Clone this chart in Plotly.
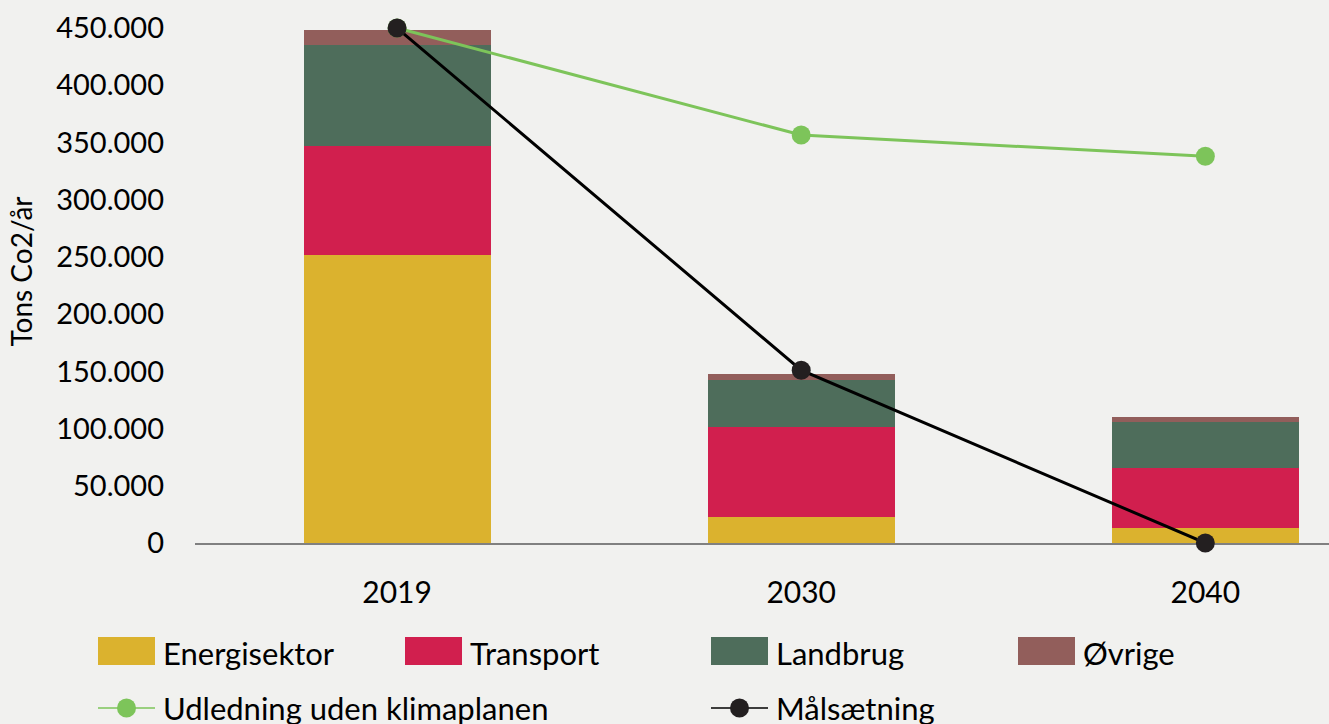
import plotly.graph_objects as go

years = ["2019", "2030", "2040"]
energisektor = [252000, 22700, 13100]
transport = [94500, 78700, 52400]
landbrug = [88500, 41000, 40200]
oevrige = [13500, 5300, 4400]
udledning = [450000, 356500, 338000]
maalsaetning = [450000, 151000, 0]
y_ticks = [0, 50000, 100000, 150000, 200000, 250000, 300000, 350000, 400000, 450000]

bar_names = ["Energisektor", "Transport", "Landbrug", "Øvrige"]
bar_values = [energisektor, transport, landbrug, oevrige]
bar_colors = ["#DBB22E", "#D11F4E", "#4E6D5B", "#925E5B"]
line_names = ["Udledning uden klimaplanen", "Målsætning"]
line_values = [udledning, maalsaetning]
line_colors = ["#7DC45A", "#000000"]
marker_colors = ["#7DC45A", "#231F20"]

W, H = 1329, 724
L, R, T, B = 195, 0, 0, 181
FONT = "Lato"

fig = go.Figure()
for name, vals, col in zip(bar_names, bar_values, bar_colors):
    fig.add_trace(go.Bar(x=list(range(len(years))), y=vals, name=name,
                         marker=dict(color=col, line=dict(width=0)),
                         showlegend=False))
for name, vals, lc, mc in zip(line_names, line_values, line_colors, marker_colors):
    fig.add_trace(go.Scatter(x=list(range(len(years))), y=vals, name=name,
                             mode="lines+markers", cliponaxis=False,
                             line=dict(color=lc, width=3),
                             marker=dict(color=mc, size=19),
                             showlegend=False))

pw = W - L - R
ph = H - T - B
def px(xp):
    return (xp - L) / pw
def py(yp):
    return (H - B - yp) / ph

shapes = []
annotations = []
cols = [98, 405, 711, 1018]
for i, (name, col) in enumerate(zip(bar_names, bar_colors)):
    x0 = cols[i]
    shapes.append(dict(type="rect", xref="paper", yref="paper",
                       x0=px(x0), x1=px(x0 + 57), y0=py(665), y1=py(637),
                       fillcolor=col, line=dict(width=0)))
    annotations.append(dict(xref="paper", yref="paper", x=px(x0 + 63), y=py(653),
                            text=name, showarrow=False, xanchor="left", yanchor="middle",
                            font=dict(family=FONT, size=31, color="#000000")))
row2 = [98, 711]
for i, (name, lc, mc) in enumerate(zip(line_names, line_colors, marker_colors)):
    x0 = row2[i]
    shapes.append(dict(type="line", xref="paper", yref="paper",
                       x0=px(x0), x1=px(x0 + 57), y0=py(708), y1=py(708),
                       line=dict(color=lc, width=1.5)))
    shapes.append(dict(type="circle", xref="paper", yref="paper",
                       x0=px(x0 + 19), x1=px(x0 + 38), y0=py(717.5), y1=py(698.5),
                       fillcolor=mc, line=dict(width=0)))
    annotations.append(dict(xref="paper", yref="paper", x=px(x0 + 63), y=py(708),
                            text=name, showarrow=False, xanchor="left", yanchor="middle",
                            font=dict(family=FONT, size=31, color="#000000")))

fig.update_layout(
    width=W, height=H,
    margin=dict(l=L, r=R, t=T, b=B, pad=0),
    paper_bgcolor="#F1F1EF", plot_bgcolor="#F1F1EF",
    barmode="stack", bargap=0.537,
    separators=",.",
    font=dict(family=FONT, size=28, color="#000000"),
    shapes=shapes, annotations=annotations,
    xaxis=dict(range=[-0.5, 2.306], tickmode="array",
               tickvals=list(range(len(years))), ticktext=years,
               showgrid=False, zeroline=False, showline=True,
               linecolor="#808080", linewidth=2, ticks="",
               ticklabelstandoff=22, layer="below traces",
               tickfont=dict(size=30)),
    yaxis=dict(range=[0, 474500], tickmode="array", tickvals=y_ticks,
               tickformat=",d", showgrid=False, zeroline=False, showline=False,
               ticks="", ticklabelstandoff=30,
               title=dict(text="Tons Co2/år", standoff=15, font=dict(size=28)),
               tickfont=dict(size=29)),
)

fig.write_html("out.html", config={"displayModeBar": False},
               post_script="document.body.style.margin='0';document.body.style.overflow='hidden';")
